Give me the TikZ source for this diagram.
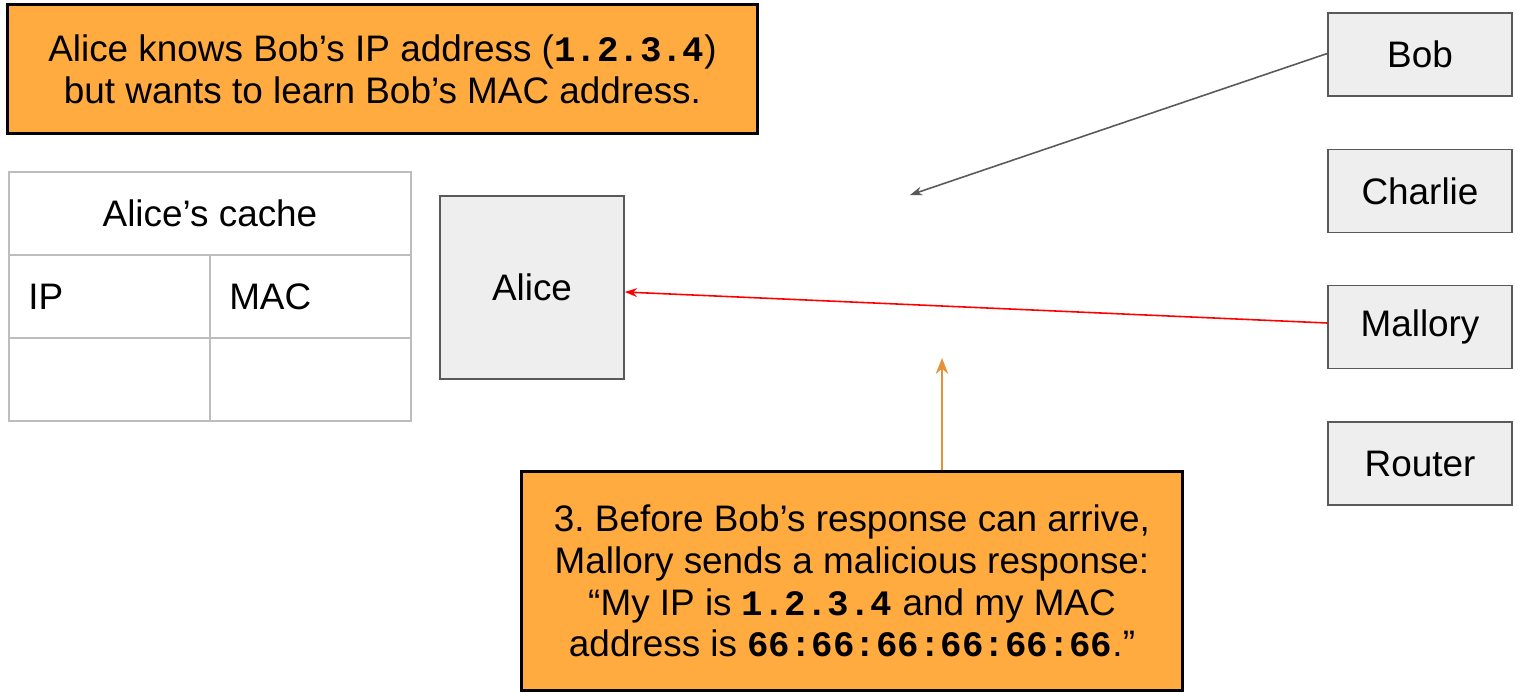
\documentclass[tikz,border=0pt]{standalone}
\usepackage{fontspec}
\setmainfont{Liberation Sans}
\setmonofont[Scale=0.97]{Liberation Mono}
\usepackage{xcolor}
\usepackage{tikz}
\usetikzlibrary{positioning,calc,arrows.meta}
\frenchspacing

\definecolor{notefill}{HTML}{FFAB40}
\definecolor{hostfill}{HTML}{EEEEEE}
\definecolor{hostline}{HTML}{595959}
\definecolor{cacheline}{HTML}{BDBDBD}
\definecolor{hintline}{HTML}{E69138}

\tikzset{
    note/.style={draw=black, line width=1.7pt, fill=notefill, align=center, font=\fontsize{21}{23.8}\selectfont},
    host/.style={draw=hostline, line width=0.9pt, fill=hostfill, minimum width=3.68cm, minimum height=1.66cm, font=\fontsize{21}{24}\selectfont},
    cell/.style={draw=cacheline, line width=1.1pt, minimum width=8.04cm, minimum height=1.66cm, inner sep=0pt},
    half/.style={cell, minimum width=4.02cm},
    celltext/.style={font=\fontsize{21}{24}\selectfont, anchor=west}
}
\newcommand{\addr}[1]{\texttt{\bfseries #1}}

\begin{document}
\begin{tikzpicture}[x=0.02cm, y=-0.02cm]
    \useasboundingbox (0,0) rectangle (1518,693);

    \node[note, minimum width=15.02cm, minimum height=2.6cm] (intro) at (382.5,69) {Alice knows Bob’s IP address (\addr{1.2.3.4})\\but wants to learn Bob’s MAC address.};

    % Alice's cache
    \node[cell] (cachehead) at (210,213.5) {};
    \node[font=\fontsize{21}{24}\selectfont] at (cachehead) {Alice’s cache};
    \node[half] (ipcell) at (109.5,296.5) {};
    \node[half] (maccell) at (310.5,296.5) {};
    \node[half] (ipval) at (109.5,379.5) {};
    \node[half] (macval) at (310.5,379.5) {};
    \node[celltext] at ([xshift=0.28cm]ipcell.west) {IP};
    \node[celltext] at ([xshift=0.28cm]maccell.west) {MAC};

    \node[host, minimum height=3.66cm] (alice) at (532,287.5) {Alice};
    \node[host] (bob) at (1420,54.5) {Bob};
    \node[host] (charlie) at (1420,191) {Charlie};
    \node[host] (mallory) at (1420,327) {Mallory};
    \node[host] (router) at (1420,463.5) {Router};

    \node[note, minimum width=13.24cm, minimum height=4.4cm] (step3) at (852,581) {3. Before Bob’s response can arrive,\\Mallory sends a malicious response:\\“My IP is \addr{1.2.3.4} and my MAC\\address is \addr{66:66:66:66:66:66}.”};

    \coordinate (bobend) at (910,195);
    \coordinate (hint) at (942,358);
    \draw[-{Stealth[length=7pt,width=5pt]}, draw=hostline, line width=0.9pt] ([yshift=0.02cm]bob.west) -- (bobend);
    \draw[-{Stealth[length=7pt,width=5pt]}, draw=red, line width=0.9pt] ([yshift=0.08cm]mallory.west) -- ([yshift=-0.09cm]alice.east);
    \draw[-{Stealth[length=9pt,width=7pt]}, draw=hintline, line width=1.5pt] (step3.north -| hint) -- (hint);
\end{tikzpicture}
\end{document}
